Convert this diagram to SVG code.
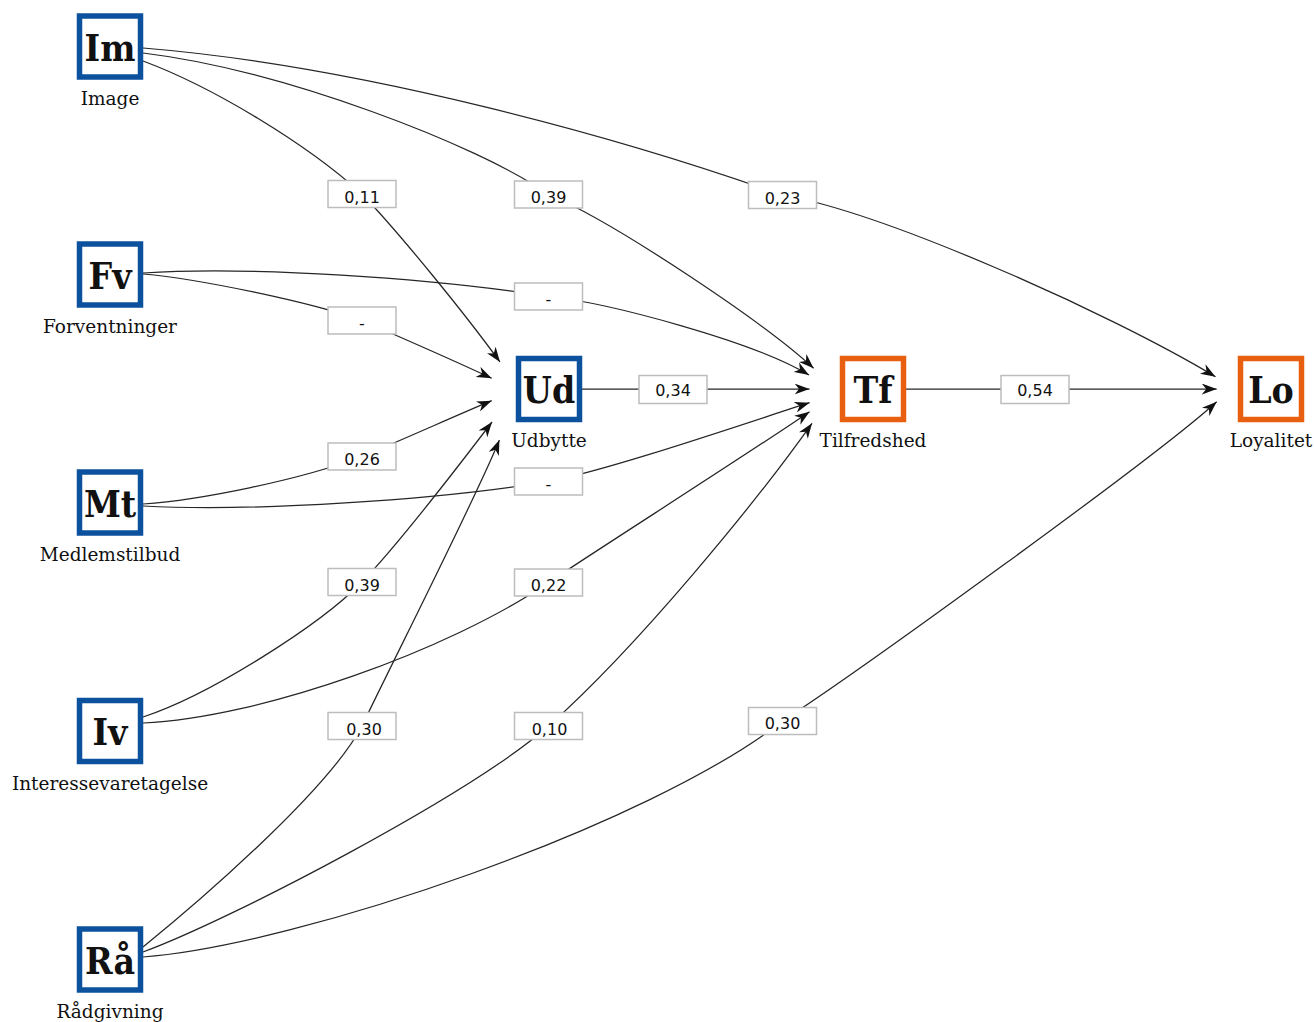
<svg xmlns="http://www.w3.org/2000/svg" width="1314" height="1022" viewBox="0 0 1314 1022">
<style>
.edge{fill:none;stroke:#262626;stroke-width:1.25}
.lbl rect{fill:#fff;stroke:#bdbdbd;stroke-width:1.5}
.lbl text{font-family:"DejaVu Sans",sans-serif;font-size:16px;fill:#111;text-anchor:middle}
.box{fill:#fff;stroke-width:5.5}
.blue{stroke:#0b519d}
.orange{stroke:#e8600f}
.abbr{font-family:"DejaVu Serif Condensed","DejaVu Serif",serif;font-stretch:condensed;font-weight:bold;font-size:37px;fill:#111;text-anchor:middle}
.name{font-family:"DejaVu Serif",serif;font-size:18.5px;fill:#111;text-anchor:middle}
</style>
<defs>
<marker id="arr" markerUnits="userSpaceOnUse" markerWidth="15" markerHeight="11" refX="15" refY="5.5" orient="auto" viewBox="0 0 15 11">
<path d="M0,0 L15,5.5 L0,11 L4.5,5.5 z" fill="#111"/>
</marker>
</defs>
<rect width="1314" height="1022" fill="#fff"/>
<g id="connectors">
<path class="edge" marker-end="url(#arr)" d="M143,61 C213,87 307,144 362,194 C402,236 465,314 500,362"/>
<path class="edge" marker-end="url(#arr)" d="M143,53 C283,70 478,145 548,194 C618,224 768.6,326 813.6,368.3"/>
<path class="edge" marker-end="url(#arr)" d="M143,48 C363,66 622,138 782,195 C882,212 1105.5,310.7 1215.5,376.7"/>
<path class="edge" marker-end="url(#arr)" d="M143,274 C200,279 310,302 362,320.5 C400,337 455,361 491.7,378.3"/>
<path class="edge" marker-end="url(#arr)" d="M143,273 C250,266 430,278 548.5,296.5 C610,303 755,342 809,375"/>
<path class="edge" marker-end="url(#arr)" d="M582,389 L809.5,389"/>
<path class="edge" marker-end="url(#arr)" d="M143,504 C200,500 300,480 362,456.5 C400,441 455,416 491.7,400.7"/>
<path class="edge" marker-end="url(#arr)" d="M143,506 C250,512 440,500 548.5,481.5 C610,470 755,420 809.6,402.7"/>
<path class="edge" marker-end="url(#arr)" d="M143,717 C210,695 320,625 362,582 C395,548 457,468 492,422"/>
<path class="edge" marker-end="url(#arr)" d="M143,723 C260,718 450,650 548.5,582.5 C600,548 760,446 809.6,411.7"/>
<path class="edge" marker-end="url(#arr)" d="M143,947 C195,905 327,792 362,726 C390,667 475,500 499.4,440"/>
<path class="edge" marker-end="url(#arr)" d="M143,952 C230,920 470,795 548.5,726 C638.5,646 757,501 812,423.3"/>
<path class="edge" marker-end="url(#arr)" d="M143,957 C300,945 650,825 782.5,721 C852.5,676 1156.7,456.7 1216.7,401.7"/>
<path class="edge" marker-end="url(#arr)" d="M906,389 L1216.7,389"/>
<g class="lbl">
<rect x="328" y="180.5" width="68" height="27"/><text x="362" y="202.5">0,11</text>
<rect x="514.5" y="181" width="68" height="27"/><text x="548.5" y="203">0,39</text>
<rect x="748.5" y="181.5" width="68" height="27"/><text x="782.5" y="203.5">0,23</text>
<rect x="328" y="307" width="68" height="27"/><text x="362" y="328.5">-</text>
<rect x="514.5" y="283" width="68" height="27"/><text x="548.5" y="304.5">-</text>
<rect x="639" y="375.5" width="68" height="28"/><text x="673" y="395.5">0,34</text>
<rect x="328" y="443" width="68" height="27"/><text x="362" y="465">0,26</text>
<rect x="514.5" y="468" width="68" height="27"/><text x="548.5" y="489.5">-</text>
<rect x="328" y="568.5" width="68" height="27"/><text x="362" y="590.5">0,39</text>
<rect x="514.5" y="569" width="68" height="27"/><text x="548.5" y="591">0,22</text>
<rect x="328" y="712.5" width="68" height="27"/><text x="364" y="734.5">0,30</text>
<rect x="514.5" y="712.5" width="68" height="27"/><text x="549.5" y="734.5">0,10</text>
<rect x="748.5" y="707.5" width="68" height="27"/><text x="782.5" y="729">0,30</text>
<rect x="1001" y="375.5" width="68" height="28"/><text x="1035" y="395.5">0,54</text>
</g>
</g>
<g id="node-Im"><rect class="box blue" x="79.5" y="16" width="61" height="61"/><text class="abbr" x="110" y="60.5">Im</text><text class="name" x="110" y="105">Image</text></g>
<g id="node-Fv"><rect class="box blue" x="79.5" y="244" width="61" height="61"/><text class="abbr" x="110" y="288.5">Fv</text><text class="name" x="110" y="333">Forventninger</text></g>
<g id="node-Mt"><rect class="box blue" x="79.5" y="472" width="61" height="61"/><text class="abbr" x="110" y="516.5">Mt</text><text class="name" x="110" y="561">Medlemstilbud</text></g>
<g id="node-Iv"><rect class="box blue" x="79.5" y="700.5" width="61" height="61"/><text class="abbr" x="110" y="745">Iv</text><text class="name" x="110" y="789.5">Interessevaretagelse</text></g>
<g id="node-Ra"><rect class="box blue" x="79.5" y="929" width="61" height="61"/><text class="abbr" x="110" y="973.5">Rå</text><text class="name" x="110" y="1018">Rådgivning</text></g>
<g id="node-Ud"><rect class="box blue" x="518.5" y="358.5" width="61" height="61"/><text class="abbr" x="549" y="403">Ud</text><text class="name" x="549" y="447">Udbytte</text></g>
<g id="node-Tf"><rect class="box orange" x="842.5" y="358.5" width="61" height="61"/><text class="abbr" x="873" y="403">Tf</text><text class="name" x="873" y="447">Tilfredshed</text></g>
<g id="node-Lo"><rect class="box orange" x="1240.5" y="358.5" width="61" height="61"/><text class="abbr" x="1271" y="403">Lo</text><text class="name" x="1271" y="447">Loyalitet</text></g>
</svg>
